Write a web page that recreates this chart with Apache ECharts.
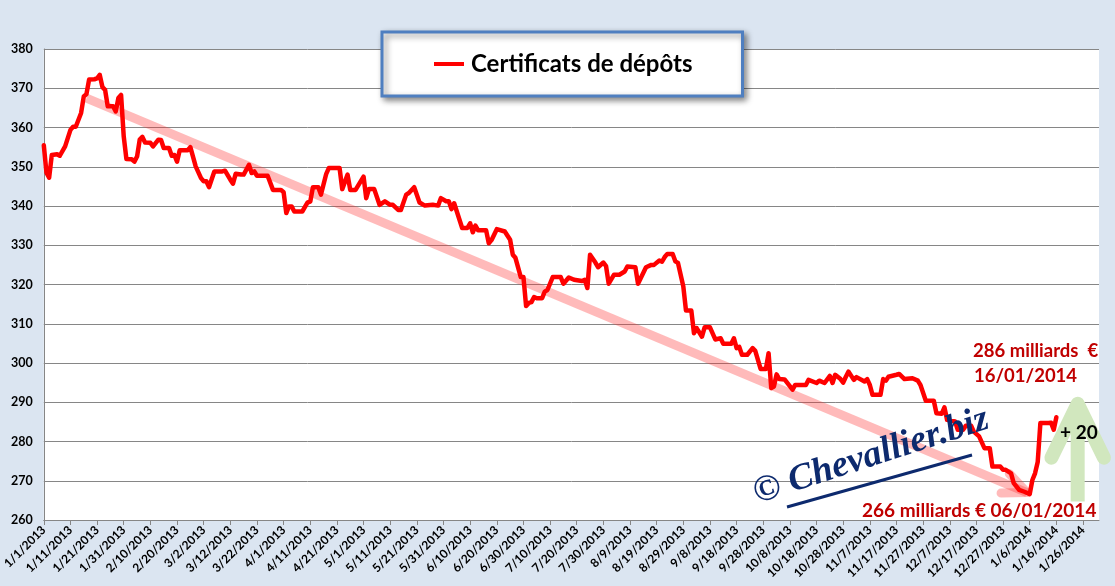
<!DOCTYPE html>
<html>
<head>
<meta charset="utf-8">
<script src="https://cdn.jsdelivr.net/npm/echarts@6/dist/echarts.min.js"></script>
<style>
html,body{margin:0;padding:0;background:#dbe5f1;}
#chart{width:1115px;height:586px;}
</style>
</head>
<body>
<div id="chart"></div>
<script>
// ---- Data ----
const seriesName = 'Certificats de dépôts';

const obsDates = [
 '1/1/2013','1/2/2013','1/3/2013','1/4/2013','1/6/2013','1/7/2013','1/9/2013','1/11/2013','1/12/2013','1/13/2013',
 '1/15/2013','1/16/2013','1/17/2013','1/18/2013','1/20/2013','1/21/2013','1/22/2013','1/23/2013','1/24/2013','1/25/2013',
 '1/27/2013','1/28/2013','1/29/2013','1/30/2013','1/31/2013','2/1/2013','2/3/2013','2/4/2013','2/5/2013','2/6/2013',
 '2/7/2013','2/8/2013','2/10/2013','2/11/2013','2/13/2013','2/14/2013','2/15/2013','2/17/2013','2/18/2013','2/19/2013',
 '2/20/2013','2/21/2013','2/24/2013','2/25/2013','2/27/2013','3/1/2013','3/2/2013','3/3/2013','3/4/2013','3/6/2013',
 '3/9/2013','3/10/2013','3/12/2013','3/13/2013','3/14/2013','3/16/2013','3/17/2013','3/19/2013','3/20/2013','3/21/2013',
 '3/22/2013','3/26/2013','3/28/2013','3/31/2013','4/1/2013','4/2/2013','4/3/2013','4/4/2013','4/5/2013','4/8/2013',
 '4/10/2013','4/11/2013','4/12/2013','4/14/2013','4/15/2013','4/17/2013','4/18/2013','4/22/2013','4/23/2013','4/25/2013',
 '4/26/2013','4/28/2013','5/1/2013','5/2/2013','5/3/2013','5/5/2013','5/7/2013','5/9/2013','5/11/2013','5/12/2013',
 '5/14/2013','5/15/2013','5/17/2013','5/18/2013','5/20/2013','5/22/2013','5/24/2013','5/27/2013','5/29/2013','5/30/2013',
 '6/1/2013','6/2/2013','6/3/2013','6/4/2013','6/5/2013','6/7/2013','6/9/2013','6/10/2013','6/11/2013','6/12/2013',
 '6/13/2013','6/16/2013','6/17/2013','6/18/2013','6/20/2013','6/23/2013','6/25/2013','6/26/2013','6/27/2013','6/29/2013',
 '6/30/2013','7/1/2013','7/2/2013','7/3/2013','7/4/2013','7/5/2013','7/7/2013','7/8/2013','7/9/2013','7/11/2013',
 '7/14/2013','7/15/2013','7/17/2013','7/19/2013','7/22/2013','7/23/2013','7/24/2013','7/25/2013','7/27/2013','7/28/2013',
 '7/30/2013','7/31/2013','8/1/2013','8/3/2013','8/5/2013','8/7/2013','8/8/2013','8/11/2013','8/12/2013','8/13/2013',
 '8/15/2013','8/17/2013','8/18/2013','8/20/2013','8/21/2013','8/22/2013','8/23/2013','8/25/2013','8/26/2013','8/27/2013',
 '8/29/2013','8/30/2013','9/1/2013','9/2/2013','9/3/2013','9/5/2013','9/6/2013','9/8/2013','9/10/2013','9/12/2013',
 '9/13/2013','9/16/2013','9/17/2013','9/18/2013','9/19/2013','9/20/2013','9/22/2013','9/24/2013','9/25/2013','9/27/2013',
 '9/29/2013','9/30/2013','10/1/2013','10/2/2013','10/3/2013','10/4/2013','10/6/2013','10/9/2013','10/10/2013','10/14/2013',
 '10/15/2013','10/18/2013','10/19/2013','10/21/2013','10/23/2013','10/24/2013','10/25/2013','10/27/2013','10/28/2013','10/29/2013',
 '10/30/2013','11/1/2013','11/2/2013','11/5/2013','11/6/2013','11/7/2013','11/8/2013','11/11/2013','11/12/2013','11/13/2013',
 '11/14/2013','11/17/2013','11/18/2013','11/20/2013','11/23/2013','11/25/2013','11/26/2013','11/28/2013','12/1/2013','12/2/2013',
 '12/4/2013','12/5/2013','12/6/2013','12/9/2013','12/10/2013','12/12/2013','12/13/2013','12/15/2013','12/16/2013','12/18/2013',
 '12/20/2013','12/22/2013','12/23/2013','12/26/2013','12/27/2013','12/28/2013','12/30/2013','12/31/2013','1/2/2014','1/4/2014',
 '1/6/2014','1/7/2014','1/8/2014','1/9/2014','1/10/2014','1/13/2014','1/14/2014','1/15/2014','1/16/2014'
];

const obsValues = [
 355.5,348.5,347.2,353.0,353.2,352.8,355.2,359.4,360.2,360.2,
 363.7,367.9,368.5,372.2,372.3,372.5,373.4,370.3,369.6,365.4,
 365.4,364.1,367.5,368.3,357.7,352.0,351.9,351.3,352.6,356.9,
 357.6,356.2,356.1,355.2,356.9,356.8,354.8,354.8,352.8,353.0,
 351.3,354.2,354.2,355.0,350.1,347.1,346.3,346.3,344.8,348.8,
 348.8,349.0,346.7,345.7,348.2,348.0,348.0,350.5,348.4,348.8,
 347.7,347.7,344.1,344.1,343.5,338.2,339.9,339.9,338.6,338.6,
 340.9,341.1,344.8,344.8,342.9,348.2,349.7,349.7,344.3,348.0,
 344.1,344.1,347.5,342.0,344.3,344.3,340.3,341.2,340.3,340.3,
 339.0,339.0,342.9,343.3,344.8,340.9,340.1,340.3,340.1,342.0,
 341.2,341.2,339.2,340.7,338.6,334.4,334.4,335.6,333.3,335.0,
 333.8,333.8,330.5,331.3,334.1,333.5,331.4,327.6,326.8,321.9,
 321.9,314.5,315.3,315.5,316.8,316.5,316.5,318.2,318.6,321.9,
 321.9,320.2,321.8,321.2,320.9,321.2,319.1,327.6,325.6,324.4,
 325.6,324.7,320.2,322.5,322.5,323.3,324.6,324.4,320.2,321.6,
 324.4,325.0,325.0,326.1,325.8,327.0,327.8,327.8,325.9,325.5,
 319.5,313.4,313.4,307.6,308.9,306.7,309.1,309.1,306.0,306.3,
 304.9,304.9,306.3,303.8,304.1,302.1,302.1,303.8,303.1,298.5,
 298.5,302.5,293.6,294.0,297.1,295.9,295.8,293.2,294.4,294.4,
 295.7,294.9,295.5,294.9,296.7,294.9,297.0,295.9,295.0,296.5,
 297.8,295.7,296.4,295.3,295.9,294.4,291.9,291.9,295.9,295.5,
 296.5,297.0,297.2,295.9,296.1,295.5,294.4,290.4,290.4,287.2,
 287.1,288.7,285.5,285.1,283.0,283.0,284.0,284.0,282.5,281.3,
 278.3,278.3,273.6,273.6,272.8,272.8,271.9,269.4,267.7,267.2,
 266.6,270.2,271.9,274.8,284.7,284.7,284.8,283.0,286.2
];

const yTicks = { min: 260, max: 380, interval: 10 };

// annotation anchors (in data space)
const trendStart = { date: '1/17/2013', value: 367.5 };
const trendEnd   = { date: '1/5/2014',  value: 267.0 };
const riseArrow  = { date: '1/24/2014', from: 264.7, to: 289.6 };

// ---- daily category axis 1/1/2013 .. 2/1/2014 ----
const categories = [];
for (let i = 0; i <= 396; i++) {
  const d = new Date(Date.UTC(2013, 0, 1 + i));
  categories.push((d.getUTCMonth() + 1) + '/' + d.getUTCDate() + '/' + d.getUTCFullYear());
}
const lookup = {};
obsDates.forEach((d, i) => { lookup[d] = obsValues[i]; });
const seriesData = categories.map(c => (c in lookup ? lookup[c] : null));

const FONT = 'Lato, "Noto Sans", sans-serif';
const chart = echarts.init(document.getElementById('chart'));

chart.setOption({
  backgroundColor: '#dbe5f1',
  animation: false,
  grid: { left: 39, right: 16, top: 49, bottom: 66, show: true, backgroundColor: '#ffffff', borderWidth: 0 },
  legend: {
    left: 382, top: 32,
    padding: [20, 50, 20, 52],
    backgroundColor: '#ffffff',
    borderColor: '#4f7fc0', borderWidth: 3,
    shadowColor: 'rgba(0,0,0,0.45)', shadowBlur: 6, shadowOffsetX: 3, shadowOffsetY: 3,
    icon: 'rect', itemWidth: 30, itemHeight: 4, itemGap: 0,
    textStyle: { fontFamily: FONT, fontWeight: 'bold', fontSize: 24, color: '#000', padding: [0, 0, 0, 2] },
    data: [seriesName]
  },
  xAxis: {
    type: 'category',
    data: categories,
    boundaryGap: false,
    axisLine: { lineStyle: { color: '#868686', width: 1 } },
    axisTick: { show: true, interval: 9, length: 5, lineStyle: { color: '#868686' } },
    axisLabel: { interval: 9, rotate: 45, margin: 8, fontFamily: FONT, fontWeight: 'bold', fontSize: 12, color: '#000' },
    splitLine: { show: false }
  },
  yAxis: {
    type: 'value',
    min: yTicks.min, max: yTicks.max, interval: yTicks.interval,
    axisLine: { show: true, lineStyle: { color: '#868686', width: 1 } },
    axisTick: { show: false },
    axisLabel: { margin: 11, fontFamily: FONT, fontWeight: 'bold', fontSize: 12.5, color: '#000' },
    splitLine: { show: true, lineStyle: { color: '#868686', width: 1 } }
  },
  series: [{
    name: seriesName,
    type: 'line',
    data: seriesData,
    connectNulls: true,
    showSymbol: false,
    symbol: 'none',
    z: 3,
    itemStyle: { color: '#ff0000' },
    lineStyle: { color: '#ff0000', width: 4.5, join: 'round', cap: 'round' }
  }]
});

function px(date, value) {
  return chart.convertToPixel({ gridIndex: 0 }, [categories.indexOf(date), value]);
}
function arms(tip, from, len, angDeg) {
  const dx = from[0] - tip[0], dy = from[1] - tip[1];
  const L = Math.hypot(dx, dy), ux = dx / L, uy = dy / L;
  const a = angDeg * Math.PI / 180;
  const r = (s) => [tip[0] + len * (ux * Math.cos(s * a) - uy * Math.sin(s * a)),
                    tip[1] + len * (ux * Math.sin(s * a) + uy * Math.cos(s * a))];
  return [r(1), tip, r(-1)];
}

const tS = px(trendStart.date, trendStart.value);
const tE = px(trendEnd.date, trendEnd.value);
const gB = px(riseArrow.date, riseArrow.from);
const gT = px(riseArrow.date, riseArrow.to);
const pink = 'rgba(255,40,40,0.32)';
const green = '#d1e7be';

chart.setOption({
  graphic: [
    { type: 'line', z: 1, shape: { x1: tS[0], y1: tS[1], x2: tE[0], y2: tE[1] },
      style: { stroke: pink, lineWidth: 9, lineCap: 'butt' } },
    { type: 'polyline', z: 1, shape: { points: arms(tE, tS, 26, 24) },
      style: { stroke: pink, lineWidth: 9, lineCap: 'round', lineJoin: 'round', fill: null } },
    { type: 'line', z: 1, shape: { x1: gB[0], y1: gB[1], x2: gT[0], y2: gT[1] + 4 },
      style: { stroke: green, lineWidth: 14, lineCap: 'butt' } },
    { type: 'polyline', z: 1, shape: { points: arms(gT, gB, 60, 26) },
      style: { stroke: green, lineWidth: 14, lineCap: 'round', lineJoin: 'round', fill: null } },

    { type: 'line', z: 10, shape: { x1: 787, y1: 507, x2: 972, y2: 455 },
      style: { stroke: '#0d2a6e', lineWidth: 3 } },
    { type: 'text', z: 10, x: 760, y: 512, rotation: 18 * Math.PI / 180,
      style: { text: '© Chevallier.biz', fill: '#0d2a6e', fontFamily: '"Liberation Serif", serif',
               fontStyle: 'italic', fontWeight: 'bold', fontSize: 37, textVerticalAlign: 'bottom' } },

    { type: 'text', z: 10, x: 973, y: 351,
      style: { text: '286 milliards  €', fill: '#c00000', fontFamily: FONT, fontWeight: 'bold', fontSize: 18.5, textVerticalAlign: 'middle' } },
    { type: 'text', z: 10, x: 974, y: 376,
      style: { text: '16/01/2014', fill: '#c00000', fontFamily: FONT, fontWeight: 'bold', fontSize: 18.5, textVerticalAlign: 'middle' } },
    { type: 'text', z: 10, x: 862, y: 511,
      style: { text: '266 milliards € 06/01/2014', fill: '#c00000', fontFamily: FONT, fontWeight: 'bold', fontSize: 19, textVerticalAlign: 'middle' } },
    { type: 'text', z: 10, x: 1060, y: 433,
      style: { text: '+ 20', fill: '#000000', fontFamily: FONT, fontWeight: 'bold', fontSize: 19, textVerticalAlign: 'middle' } }
  ]
});
</script>
</body>
</html>
